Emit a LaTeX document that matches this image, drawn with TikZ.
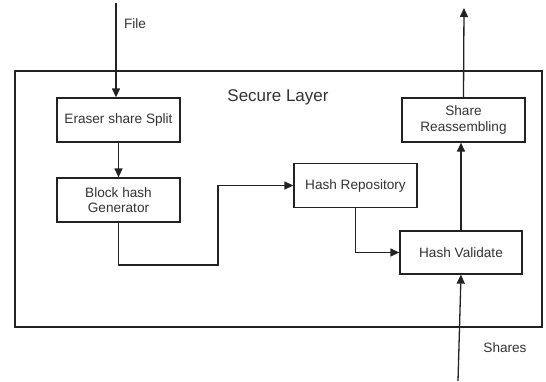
\documentclass[tikz,border=0pt]{standalone}
\usepackage{fontspec}
\setmainfont{Liberation Sans}
\usetikzlibrary{arrows.meta}
\definecolor{txt}{HTML}{333333}
\definecolor{ln}{HTML}{222222}
\begin{document}
\begin{tikzpicture}[x=1pt,y=-1pt,
  blk/.style={draw=ln,line width=1.3pt,minimum width=123pt,minimum height=44pt,inner sep=0pt,
    align=center,text=txt,font=\fontsize{13.6}{15.5}\selectfont},
  lbl/.style={text=txt,font=\fontsize{13.6}{15.5}\selectfont,inner sep=0pt},
  arr/.style={draw=ln,line width=1.3pt,-{Triangle[length=9pt,width=8pt]}}]
\useasboundingbox (0,0) rectangle (546,381);
\node[draw=ln,line width=1.3pt,minimum width=527pt,minimum height=256pt,inner sep=0pt] (outer) at (278.5,199) {};
\node[blk] (erase) at (118.5,120) {Eraser share Split};
\node[blk] (block) at (118.5,200) {Block hash\\Generator};
\node[blk] (repo) at (355.5,185.5) {Hash Repository};
\node[blk,minimum width=122pt,minimum height=43pt] (valid) at (461,252.5) {Hash Validate};
\node[blk] (share) at (463.5,120) {Share\\Reassembling};
\node[lbl] (file) at (135,24) {File};
\node[lbl,font=\fontsize{17}{20}\selectfont] (secure) at (278,97) {Secure Layer};
\node[lbl] (shares) at (505,348) {Shares};
\coordinate (fin) at (116,3);
\coordinate (out) at (464,8);
\coordinate (sin) at (458,381);
\coordinate (b1) at (218,265);
\draw[arr] (fin) -- (erase.north -| fin);
\draw[arr] (erase.south) -- (block.north);
\draw[arr] (block.south) |- (b1) |- (repo.west);
\draw[arr] (repo.south) |- (valid.west);
\draw[arr] (valid.north) -- (valid.north |- share.south);
\draw[arr] (share.north) -- (out);
\draw[arr] (sin) -- (valid.south);
\end{tikzpicture}
\end{document}
